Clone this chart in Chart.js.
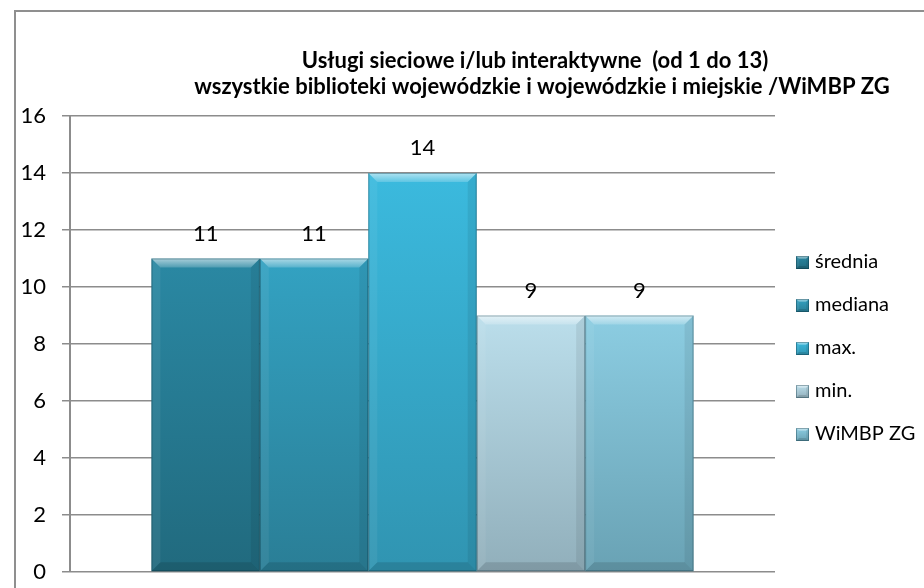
<!DOCTYPE html>
<html>
<head>
<meta charset="utf-8">
<script src="https://cdn.jsdelivr.net/npm/chart.js@4.4.0/dist/chart.umd.min.js"></script>
<style>
  html, body { margin: 0; padding: 0; background: #fff; }
  #wrap { position: relative; width: 924px; height: 588px; overflow: hidden; }
  #frame { position: absolute; left: 14px; top: 10px; width: 1000px; height: 700px;
           border-left: 2.5px solid #8f8f8f; border-top: 2.5px solid #8f8f8f; }
  canvas { position: absolute; left: 0; top: 0; }
</style>
</head>
<body>
<div id="wrap">
  <div id="frame"></div>
  <canvas id="chart" width="924" height="588" style="width:924px;height:588px"></canvas>
</div>
<script>
// chart data
const titleLines = ['Usługi sieciowe i/lub interaktywne  (od 1 do 13)',
  'wszystkie biblioteki wojewódzkie i wojewódzkie i miejskie /WiMBP ZG'];
const categories = [''];
const seriesNames = ['średnia', 'mediana', 'max.', 'min.', 'WiMBP ZG'];
const seriesValues = [11, 11, 14, 9, 9];
const yMin = 0, yMax = 16, yStep = 2;

// palette (top / bottom of each bar)
const topColors = ['#2a88a3', '#33a2c2', '#3bbade', '#bbdeeb', '#8ccde2'];
const bottomColors = ['#216a7e', '#2a7e96', '#3094b1', '#91afbb', '#69a2b4'];
const FONT = 'Lato, "DejaVu Sans", sans-serif';

function barGradient(i) {
  return (ctx) => {
    const chart = ctx.chart;
    const y = chart.scales.y;
    if (!chart.chartArea || !y || ctx.type !== 'data') return topColors[i];
    const top = y.getPixelForValue(ctx.raw);
    const bottom = y.getPixelForValue(0);
    const g = chart.ctx.createLinearGradient(0, top, 0, bottom);
    g.addColorStop(0, topColors[i]);
    g.addColorStop(1, bottomColors[i]);
    return g;
  };
}

// bevel on each bar
function bevel(c, left, right, top, bottom, b) {
  c.save();
  // top
  c.beginPath();
  c.moveTo(left, top); c.lineTo(right, top); c.lineTo(right - b, top + b); c.lineTo(left + b, top + b); c.closePath();
  let g = c.createLinearGradient(0, top, 0, top + b);
  g.addColorStop(0, 'rgba(255,255,255,0.6)');
  g.addColorStop(1, 'rgba(255,255,255,0.18)');
  c.fillStyle = g; c.fill();
  // left
  c.beginPath();
  c.moveTo(left, top); c.lineTo(left + b, top + b); c.lineTo(left + b, bottom - b); c.lineTo(left, bottom); c.closePath();
  c.fillStyle = 'rgba(255,255,255,0.06)'; c.fill();
  // right
  c.beginPath();
  c.moveTo(right, top); c.lineTo(right - b, top + b); c.lineTo(right - b, bottom - b); c.lineTo(right, bottom); c.closePath();
  c.fillStyle = 'rgba(0,0,0,0.07)'; c.fill();
  // bottom
  c.beginPath();
  c.moveTo(left, bottom); c.lineTo(left + b, bottom - b); c.lineTo(right - b, bottom - b); c.lineTo(right, bottom); c.closePath();
  c.fillStyle = 'rgba(0,0,0,0.12)'; c.fill();
  // outline
  c.strokeStyle = 'rgba(0,40,55,0.35)';
  c.lineWidth = 1;
  c.strokeRect(left + 0.5, top + 0.5, right - left - 1, bottom - top - 1);
  c.restore();
}

const bevelPlugin = {
  id: 'bevel',
  afterDatasetsDraw(chart) {
    const c = chart.ctx;
    chart.data.datasets.forEach((ds, i) => {
      chart.getDatasetMeta(i).data.forEach((el) => {
        const left = el.x - el.width / 2, right = el.x + el.width / 2;
        bevel(c, left, right, el.y, el.base, 9);
        // value label
        c.save();
        c.fillStyle = '#000';
        c.font = '22px ' + FONT;
        c.textAlign = 'center';
        c.textBaseline = 'middle';
        c.fillText(String(ds.data[0]), el.x, el.y - 25);
        c.restore();
      });
    });
  }
};

const titleLegendPlugin = {
  id: 'titleLegend',
  afterDraw(chart) {
    const c = chart.ctx;
    c.save();
    c.fillStyle = '#000';
    c.font = 'bold 22px ' + FONT;
    c.textAlign = 'center';
    c.textBaseline = 'middle';
    c.fillText(titleLines[0], 535, 61);
    c.fillText(titleLines[1], 542, 87);

    // legend
    c.font = '20px ' + FONT;
    c.textAlign = 'left';
    chart.data.datasets.forEach((ds, i) => {
      const cy = 262 + i * 43;
      const x = 796, y = cy - 6, s = 13;
      const g = c.createLinearGradient(0, y, 0, y + s);
      g.addColorStop(0, topColors[i]);
      g.addColorStop(1, bottomColors[i]);
      c.fillStyle = g;
      c.fillRect(x, y, s, s);
      bevel(c, x, x + s, y, y + s, 3);
      c.fillStyle = '#000';
      c.fillText(ds.label, 815, cy);
    });
    c.restore();
  }
};

new Chart(document.getElementById('chart'), {
  type: 'bar',
  data: {
    labels: categories,
    datasets: seriesNames.map((name, i) => ({
      label: name,
      data: [seriesValues[i]],
      backgroundColor: barGradient(i),
      borderWidth: 0,
      barPercentage: 1.0,
      categoryPercentage: 0.769
    }))
  },
  options: {
    responsive: false,
    animation: false,
    devicePixelRatio: 1,
    layout: { padding: { left: 0, right: 149, top: 116, bottom: 16 } },
    scales: {
      x: { display: false },
      y: {
        min: yMin,
        max: yMax,
        afterFit(scale) {
          scale.width = 70;
          scale.paddingTop = 0;
          scale.paddingBottom = 0;
        },
        ticks: {
          stepSize: yStep,
          color: '#000',
          padding: 16,
          font: { family: FONT, size: 22 }
        },
        grid: { color: '#8c8c8c', lineWidth: 1.5, tickLength: 8 },
        border: { display: true, color: '#8c8c8c', width: 2 }
      }
    },
    plugins: {
      legend: { display: false },
      title: { display: false },
      tooltip: { enabled: false }
    }
  },
  plugins: [bevelPlugin, titleLegendPlugin]
});
</script>
</body>
</html>
